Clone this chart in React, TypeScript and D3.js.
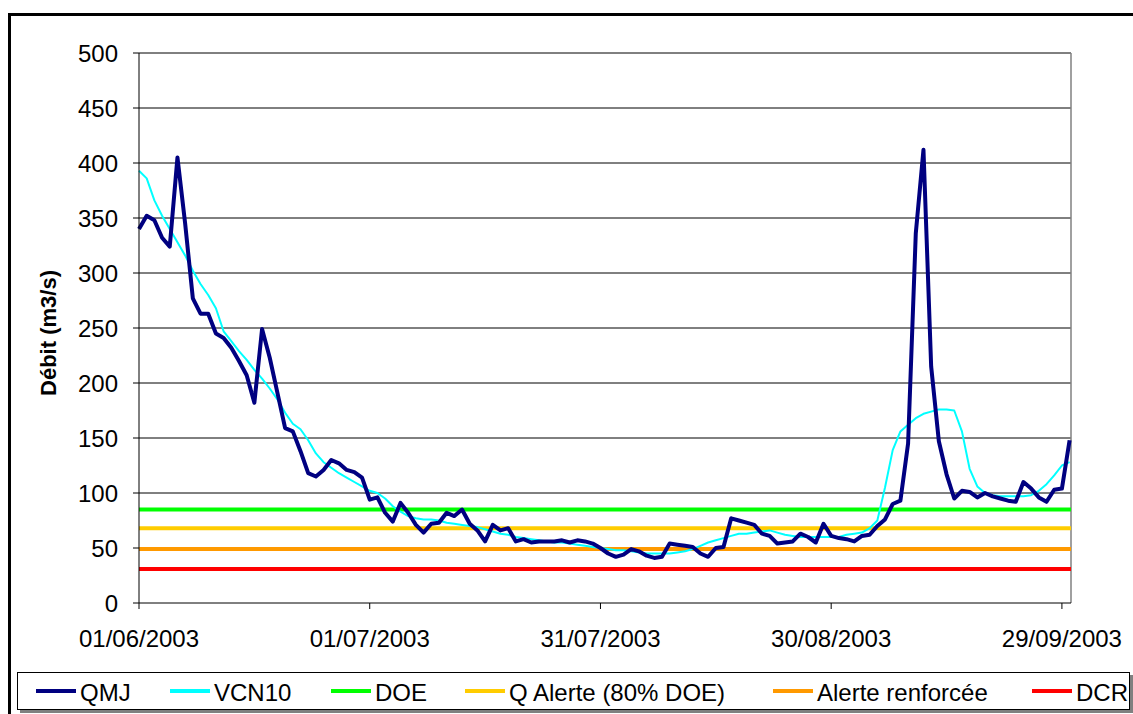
import React from 'react';
import * as d3 from 'd3';

const startDate = '01/06/2003';
const qmj = [
  340, 352, 348, 332, 324, 405, 345, 277, 263, 263,
  245, 241, 232, 220, 207, 182, 249, 223, 191, 159,
  156, 138, 118, 115, 121, 130, 127, 121, 119, 114,
  94, 96, 82, 74, 91, 82, 71, 64, 72, 73,
  82, 79, 85, 72, 66, 56, 71, 66, 68, 56,
  58, 55, 56, 56, 56, 57, 55, 57, 56, 54,
  50, 45, 42, 44, 49, 47, 43, 41, 42, 54,
  53, 52, 51, 45, 42, 50, 51, 77, 75, 73,
  71, 63, 61, 54, 55, 56, 63, 60, 55, 72,
  61, 59, 58, 56, 61, 62, 70, 76, 90, 93,
  145, 336, 412, 215, 147, 117, 95, 102, 101, 96,
  100, 97, 95, 93, 92, 110, 104, 96, 92, 103,
  104, 148,
];
const vcn10 = [
  393, 386, 366, 352, 340, 328, 316, 302, 290, 280,
  268, 247, 238, 229, 221, 212, 204, 195, 185, 173,
  163, 158, 148, 136, 128, 123, 118, 114, 110, 106,
  102, 100, 95, 88, 83, 79, 77, 76, 76, 75,
  73, 72, 71, 70, 69, 67, 65, 63, 62, 60,
  59, 58, 57, 56, 55, 55, 54, 53, 52, 51,
  50, 49, 48, 48, 47, 46, 45, 45, 45, 45,
  46, 47, 49, 52, 55, 57, 59, 61, 63, 63,
  64, 65, 66, 64, 62, 61, 60, 60, 60, 60,
  60, 60, 62, 63, 64, 68, 75, 105, 139, 156,
  162, 168, 172, 174, 176, 176, 175, 156, 122, 106,
  100, 98, 97, 97, 97, 97, 98, 102, 108, 116,
  125, 128,
];
const thresholdNames = ['DOE', 'Q Alerte (80% DOE)', 'Alerte renforcée', 'DCR'];
const thresholdValues = [85, 68, 49, 31];
const yTicks = [0, 50, 100, 150, 200, 250, 300, 350, 400, 450, 500];
const xTickLabels = ['01/06/2003', '01/07/2003', '31/07/2003', '30/08/2003', '29/09/2003'];
const legendLabels = ['QMJ', 'VCN10', 'DOE', 'Q Alerte (80% DOE)', 'Alerte renforcée', 'DCR'];
const yTitle = 'Débit (m3/s)';

const seriesColors = ['#000080', '#00FFFF'];
const thresholdColors = ['#00FF00', '#FFCC00', '#FF9900', '#FF0000'];
const legendColors = [...seriesColors, ...thresholdColors];
const legendX = [36, 170, 331, 465, 773, 1032];

const FONT = '"Liberation Sans", Arial, sans-serif';

export default function App() {
  const parse = d3.utcParse('%d/%m/%Y');
  const start = parse(startDate) as Date;
  const dates = qmj.map((_, i) => d3.utcDay.offset(start, i));
  const left = 139, right = 1071, top = 53, bottom = 603;
  const x = d3.scaleUtc().domain([start, dates[dates.length - 1]]).range([left, 1069.6]);
  const y = d3.scaleLinear().domain([0, 500]).range([bottom, top]);
  const line = d3.line<number>().x((_, i) => x(dates[i])).y((d) => y(d));
  const xTicks = xTickLabels.map((l) => parse(l) as Date);

  return (
    <div style={{ position: 'absolute', left: 0, top: 0 }}>
      <svg width={1133} height={714} style={{ display: 'block', background: '#fff' }} fontFamily={FONT}>
        <rect x={9.5} y={14.5} width={1140} height={720} fill="#fff" stroke="#000" strokeWidth={3} />
        {yTicks.map((t) => (
          <line key={'g' + t} x1={left} x2={right} y1={y(t)} y2={y(t)} stroke={t === 0 ? 'none' : '#000'} strokeWidth={1} />
        ))}
        <line x1={right} x2={right} y1={top} y2={bottom} stroke="#808080" strokeWidth={1.5} />
        {thresholdValues.map((v, i) => (
          <line key={'t' + i} x1={left} x2={right} y1={y(v)} y2={y(v)} stroke={thresholdColors[i]} strokeWidth={4} />
        ))}
        <path d={line(vcn10) || ''} fill="none" stroke={seriesColors[1]} strokeWidth={2} strokeLinejoin="round" />
        <path d={line(qmj) || ''} fill="none" stroke={seriesColors[0]} strokeWidth={4} strokeLinejoin="round" />
        <line x1={left} x2={left} y1={top} y2={bottom} stroke="#000" strokeWidth={1} />
        <line x1={left} x2={right} y1={bottom} y2={bottom} stroke="#000" strokeWidth={1} />
        {yTicks.map((t) => (
          <g key={'y' + t}>
            <line x1={left - 6} x2={left} y1={y(t)} y2={y(t)} stroke="#000" />
            <text x={118} y={y(t)} textAnchor="end" dominantBaseline="central" fontSize={24}>{t}</text>
          </g>
        ))}
        {xTicks.map((d, i) => (
          <g key={'x' + i}>
            <line x1={x(d)} x2={x(d)} y1={bottom} y2={bottom + 6} stroke="#000" />
            <text x={x(d)} y={647} textAnchor="middle" fontSize={24}>{xTickLabels[i]}</text>
          </g>
        ))}
        <text transform={`translate(48,333) rotate(-90)`} textAnchor="middle" dominantBaseline="central" fontSize={22} fontWeight="bold">{yTitle}</text>
        <rect x={20} y={675} width={1113} height={38} fill="#808080" />
        <rect x={17.5} y={672.5} width={1112} height={37} fill="#fff" stroke="#000" strokeWidth={1} />
        {legendLabels.map((l, i) => (
          <g key={'l' + i}>
            <line x1={legendX[i]} x2={legendX[i] + 40} y1={691} y2={691} stroke={legendColors[i]} strokeWidth={4} />
            <text x={legendX[i] + 44} y={692} dominantBaseline="central" fontSize={24}>{l}</text>
          </g>
        ))}
      </svg>
    </div>
  );
}
